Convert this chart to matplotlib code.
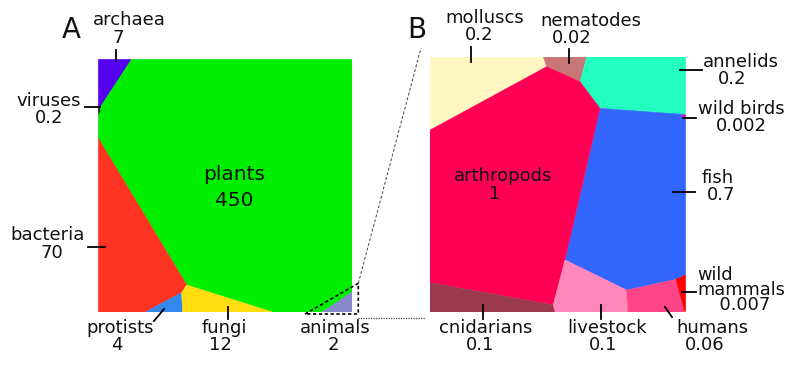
import matplotlib
matplotlib.use('Agg')
import matplotlib.pyplot as plt
from matplotlib.patches import Polygon

# ── DATA ──────────────────────────────────────────────────────────────────────
# Voronoi cells, in panel units (0-100, y up)
A_NAMES  = ["archaea", "viruses", "plants", "bacteria", "protists", "fungi", "animals"]
A_VALUES = ["7", "0.2", "450", "70", "4", "12", "2"]
A_COLORS = ["#5500ee", "#222222", "#00ee00", "#ff3322", "#3388ee", "#ffdd11", "#8888cc"]
A_CELLS = [
    [(0, 100), (13.1, 100), (0.7, 81.0), (0, 80.2)],
    [(0, 80.2), (0.7, 81.0), (0.9, 79.2), (0, 78.0)],
    [(13.1, 100), (100, 100), (100, 8.1), (88.0, 0), (68.9, 0), (34.8, 10.8),
     (0, 68.8), (0, 78.0), (0.9, 79.2), (0.7, 81.0)],
    [(0, 68.8), (34.8, 10.8), (32.8, 7.8), (18.4, 0), (0, 0)],
    [(18.4, 0), (32.8, 7.8), (33.2, 0)],
    [(33.2, 0), (32.8, 7.8), (34.8, 10.8), (68.9, 0)],
    [(88.0, 0), (100, 8.1), (100, 0)],
]

B_NAMES  = ["molluscs", "nematodes", "annelids", "wild birds", "fish", "arthropods",
            "cnidarians", "livestock", "humans", "wild mammals"]
B_VALUES = ["0.2", "0.02", "0.2", "0.002", "0.7", "1", "0.1", "0.1", "0.06", "0.007"]
B_COLORS = ["#fff6c2", "#c87676", "#22ffc0", "#cc11cc", "#3366ff", "#ff0055",
            "#9a3a4c", "#ff88bb", "#ff4488", "#ff0000"]
B_CELLS = [
    [(0, 100), (44.3, 100), (45.6, 96.1), (0, 71.3)],
    [(44.3, 100), (61.3, 100), (58.7, 90.2), (45.6, 96.1)],
    [(61.3, 100), (100, 100), (100, 77.2), (66.5, 79.8), (58.7, 90.2)],
    [(98.0, 77.5), (100, 77.2), (100, 74.8)],
    [(66.5, 79.8), (98.0, 77.5), (100, 74.8), (100, 14.6), (96.2, 12.9),
     (76.9, 8.7), (52.8, 20.5)],
    [(0, 71.3), (45.6, 96.1), (58.7, 90.2), (66.5, 79.8), (52.8, 20.5),
     (48.2, 2.9), (0, 11.6)],
    [(0, 11.6), (48.2, 2.9), (49.0, 0), (0, 0)],
    [(49.0, 0), (48.2, 2.9), (52.8, 20.5), (76.9, 8.7), (77.4, 0)],
    [(77.4, 0), (76.9, 8.7), (96.2, 12.9), (99.5, 0.5), (99.5, 0)],
    [(96.2, 12.9), (100, 14.6), (100, 0.3), (99.5, 0.5)],
]

# ── LAYOUT (pixels, y down) ───────────────────────────────────────────────────
# label name xy, value xy, leader line (x0, y0, x1, y1) or None
A_LABELS = {
    "archaea":  ((129, 20), (118, 38), (116, 50, 116, 61)),
    "viruses":  ((49, 101), (49, 118), (85, 107, 100, 107)),
    "plants":   ((234, 174), (234, 200), None),
    "bacteria": ((48, 235), (52, 253), (88, 247, 105, 247)),
    "protists": ((120, 328), (117, 345), (154, 321, 164, 309)),
    "fungi":    ((224, 328), (220, 345), (228, 307, 228, 319)),
    "animals":  ((335, 328), (333, 345), None),
}
B_LABELS = {
    "molluscs":     ((485, 18), (479, 35), (471, 47, 471, 62)),
    "nematodes":    ((591, 21), (572, 38), (569, 49, 569, 63)),
    "annelids":     ((741, 62), (732, 79), (680, 70, 702, 70)),
    "wild birds":   ((741, 109), (741, 126), (683, 118, 696, 118)),
    "fish":         ((718, 178), (721, 195), (673, 192, 695, 192)),
    "arthropods":   ((503, 176), (495, 194), None),
    "cnidarians":   ((486, 328), (480, 345), (483, 305, 483, 319)),
    "livestock":    ((607, 328), (603, 345), (601, 305, 601, 319)),
    "humans":       ((712, 328), (705, 345), (665, 307, 672, 317)),
    "wild mammals": ((697, 290), None, (682, 292, 696, 292)),
}

W, H = 800, 368
BOX_A = (98.3, 59.3, 352.3, 312.3)   # left, top, right, bottom
BOX_B = (430.0, 56.7, 685.7, 312.3)
TXT = "#111111"

fig = plt.figure(figsize=(W / 100, H / 100), dpi=100)


def panel(box, names, colors, cells):
    l, t, r, b = box
    ax = fig.add_axes([l / W, 1 - b / H, (r - l) / W, (b - t) / H])
    for name, col, cell in zip(names, colors, cells):
        ax.add_patch(Polygon(cell, closed=True, facecolor=col,
                             edgecolor=col, linewidth=0.3))
    ax.set_xlim(0, 100)
    ax.set_ylim(0, 100)
    ax.axis("off")
    return ax


panel(BOX_A, A_NAMES, A_COLORS, A_CELLS)
panel(BOX_B, B_NAMES, B_COLORS, B_CELLS)

# overlay for text, leaders and the zoom connectors
ov = fig.add_axes([0, 0, 1, 1], zorder=5)
ov.set_xlim(0, W)
ov.set_ylim(H, 0)
ov.axis("off")
ov.patch.set_alpha(0)


def labels(names, values, layout, big=()):
    for name, val in zip(names, values):
        (nx, ny), vxy, lead = layout[name]
        fs = 14.5 if name in big else 13
        if vxy is None:
            # tight three-line block (wild / mammals / value), one text
            w1, w2 = name.split()
            ov.text(nx, ny, f"{w1}\n{w2}\n    {val}", fontsize=12.8, color=TXT,
                    ha="left", va="center", linespacing=0.82)
        else:
            ov.text(nx, ny, name, fontsize=fs, color=TXT, ha="center", va="center")
            ov.text(vxy[0], vxy[1], val, fontsize=fs, color=TXT,
                    ha="center", va="center")
        if lead is not None:
            ov.plot([lead[0], lead[2]], [lead[1], lead[3]], color="black", lw=1.3)


labels(A_NAMES, A_VALUES, A_LABELS, big=("plants",))
labels(B_NAMES, B_VALUES, B_LABELS)

ov.text(71, 30, "A", fontsize=20, color=TXT, ha="center", va="center")
ov.text(417, 30, "B", fontsize=20, color=TXT, ha="center", va="center")

# dashed zoom box round animals and its connectors to panel B
ov.plot([305, 358.3, 358.3, 305], [314, 283.3, 314, 314], color="black",
        lw=1.2, ls=(0, (2, 1.5)))
ov.plot([358.3, 421], [283.3, 48], color="#444444", lw=0.7, ls=(0, (3, 2)))
ov.plot([358.3, 425], [318, 318], color="#444444", lw=0.9, ls=(0, (1, 1)))

fig.savefig("out.png", dpi=100)
